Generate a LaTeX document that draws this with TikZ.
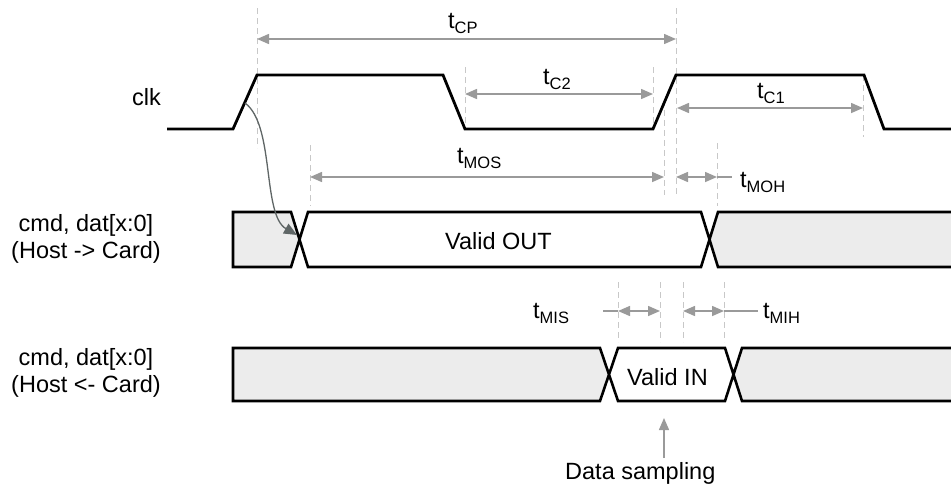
\documentclass[tikz,border=0pt]{standalone}
\usepackage{fontspec}
\setmainfont{Liberation Sans}
\usetikzlibrary{arrows.meta}
\definecolor{guidegray}{HTML}{C8C8C8}
\definecolor{dimgray}{HTML}{9A9A9A}
\definecolor{busfill}{HTML}{ECECEC}
\definecolor{causegray}{HTML}{5F6666}
\newcommand{\tlab}[1]{t\raisebox{-5pt}{\fontsize{16.5}{16.5}\selectfont #1}}
\tikzset{
  guide/.style={guidegray, line width=1pt, dash pattern=on 6pt off 4pt},
  dim/.style={dimgray, line width=1.5pt, {Triangle[length=12pt,width=10pt]}-{Triangle[length=12pt,width=10pt]}},
  leader/.style={dimgray, line width=1.5pt},
  wave/.style={line width=2.8pt, line join=miter},
  bus/.style={line width=2.6pt, line join=miter},
  txt/.style={font=\fontsize{23.5}{27}\selectfont, inner sep=0pt}
}
\begin{document}
\begin{tikzpicture}[x=1pt, y=-1pt, line cap=butt]
			\useasboundingbox (0,0) rectangle (951,483);
			
			% guide lines
			\foreach \x/\a/\b in {257/8/148, 676/8/195, 465/67/128, 653/67/130, 664/100/195,
				310/145/206, 717/143/206, 863/75/137, 618/282/342, 660/282/342, 683/282/342, 724/282/342} {
				\draw[guide] (\x,\a) -- (\x,\b);
			}
			
			% dimension points
			\coordinate (CPl) at (257,39);  \coordinate (CPr) at (676,39);
			\coordinate (C2l) at (465,94);  \coordinate (C2r) at (653,94);
			\coordinate (C1l) at (677,108); \coordinate (C1r) at (863,108);
			\coordinate (MOSl) at (310,177); \coordinate (MOSr) at (664,177);
			\coordinate (MOHl) at (676,177); \coordinate (MOHr) at (717,177); \coordinate (MOHe) at (732,177);
			\coordinate (MISs) at (603,311); \coordinate (MISl) at (618,311); \coordinate (MISr) at (660,311);
			\coordinate (MIHl) at (683,311); \coordinate (MIHr) at (724,311); \coordinate (MIHe) at (758,311);
			\coordinate (DSb) at (664,458); \coordinate (DSt) at (664,418);
			
			\draw[dim] (CPl) -- (CPr);
			\draw[dim] (C2l) -- (C2r);
			\draw[dim] (C1l) -- (C1r);
			\draw[dim] (MOSl) -- (MOSr);
			\draw[dim] (MOHl) -- (MOHr);
			\draw[leader] (MOHr) -- (MOHe);
			\draw[leader] (MISs) -- (MISl);
			\draw[dim] (MISl) -- (MISr);
			\draw[dim] (MIHl) -- (MIHr);
			\draw[leader] (MIHr) -- (MIHe);
			\draw[leader, -{Triangle[length=12pt,width=10pt]}] (DSb) -- (DSt);
			
			\node[txt, anchor=base west] (tCP) at (448,28) {\tlab{CP}};
			\node[txt, anchor=base west] (tC2) at (543,84) {\tlab{C2}};
			\node[txt, anchor=base west] (tC1) at (757,98) {\tlab{C1}};
			\node[txt, anchor=base west] (tMOS) at (457,163) {\tlab{MOS}};
			\node[txt, anchor=base west] (tMOH) at (740,187) {\tlab{MOH}};
			\node[txt, anchor=base west] (tMIS) at (533,318) {\tlab{MIS}};
			\node[txt, anchor=base west] (tMIH) at (763,318) {\tlab{MIH}};
			\node[txt, anchor=base west] (sampling) at (565,479) {Data sampling};
			
			% clock
			\draw[wave] (167,129) -- (233,129) -- (257,75) -- (443,75) -- (465,129) -- (653,129)
				-- (676,75) -- (864,75) -- (884,129) -- (951,129);
			\node[txt, anchor=base west] (clk) at (132,105) {clk};
			
			% host -> card
			\fill[busfill] (233,212) -- (291,212) -- (299.5,239.5) -- (291,267) -- (233,267) -- cycle;
			\fill[busfill] (951,212) -- (718,212) -- (709.5,239.5) -- (718,267) -- (951,267) -- cycle;
			\draw[bus] (951,212) -- (718,212) -- (701,267) -- (308,267) -- (291,212) -- (233,212)
				-- (233,267) -- (291,267) -- (308,212) -- (701,212) -- (718,267) -- (951,267);
			\node[txt, anchor=base west] (vout) at (445,249) {Valid OUT};
			\node[txt, align=center] (outlab) at (86,239) {cmd, dat[x:0]\\(Host -> Card)};
			
			% host <- card
			\fill[busfill] (233,348) -- (600,348) -- (609,374.5) -- (600,401) -- (233,401) -- cycle;
			\fill[busfill] (951,348) -- (742,348) -- (733.5,374.5) -- (742,401) -- (951,401) -- cycle;
			\draw[bus] (951,348) -- (742,348) -- (725,401) -- (618,401) -- (600,348) -- (233,348)
				-- (233,401) -- (600,401) -- (618,348) -- (725,348) -- (742,401) -- (951,401);
			\node[txt, anchor=base west] (vin) at (627,385) {Valid IN};
			\node[txt, align=center] (inlab) at (86,373) {cmd, dat[x:0]\\(Host <- Card)};
			
			% clock edge launches the output
			\coordinate (edge) at (245,103);
			\coordinate (launch) at (297,235);
			\draw[causegray, line width=1.3pt, -{Triangle[length=13pt,width=11pt]}]
				(edge) .. controls (275,125) and (262,215) .. (launch);
		\end{tikzpicture}
\end{document}
